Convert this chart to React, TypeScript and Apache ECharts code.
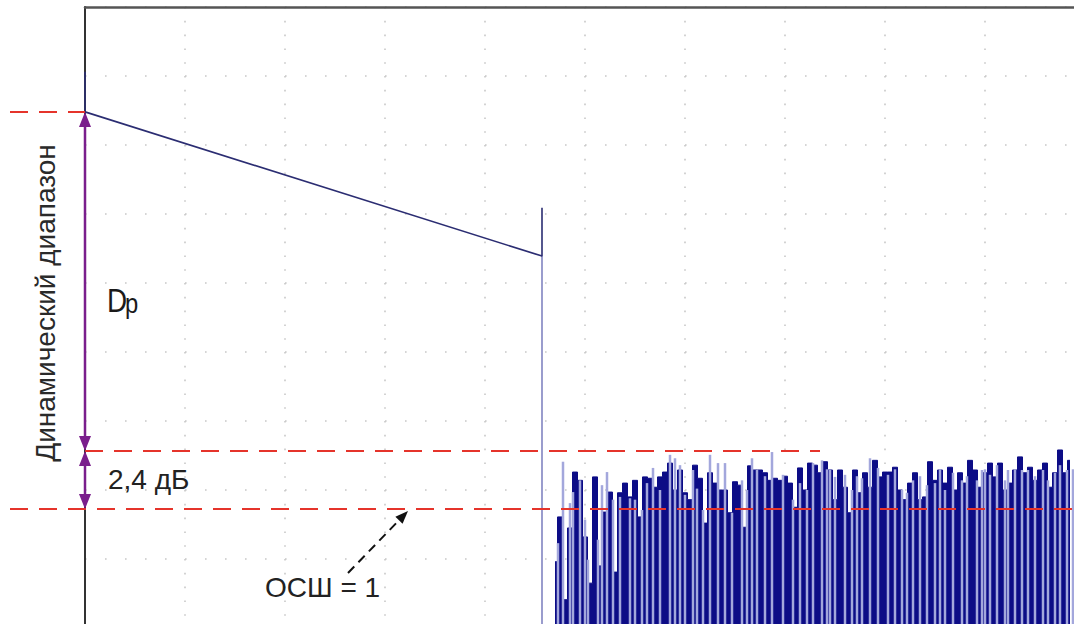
import React, { useEffect, useRef } from 'react';
import * as echarts from 'echarts';

// Axis ranges (in screen divisions)
const xMin = 0;
const xMax = 10;
const yMin = 0;
const yMax = 9;

// Main trace: start spike, linear decay, end reflection spike
const traceX = [0, 0, 4.57, 4.57, 4.57];
const traceY = [8.06, 7.48, 5.39, 6.09, 5.39];
// Fall of the trace to the floor
const dropX = [4.57, 4.57];
const dropY = [5.39, 0];

// Noise floor envelope (samples every 0.05 division from 4.70)
const noiseStart = 4.7;
const noiseStep = 0.05;
const noiseDark = [
  0.96, 1.61, 0.41, 1.45, 2.26, 2.14, 1.32, 0.65, 2.19, 0.9, 1.68, 1.97, 0.81, 1.96, 2.1, 1.9, 2.14,
  1.61, 2.19, 2.17, 2.04, 2.19, 2.26, 2.39, 2.0, 2.29, 1.96, 1.86, 2.36, 2.17, 1.52, 2.25, 2.1,
  2.0, 2.0, 1.67, 2.12, 2.07, 1.46, 2.35, 2.29, 2.29, 2.25, 2.14, 2.17, 2.14, 2.2, 2.1, 1.75, 2.32,
  2.0, 2.39, 2.36, 2.25, 2.41, 2.29, 1.86, 2.29, 2.04, 1.67, 2.29, 1.96, 2.25, 2.04, 2.43, 2.19, 2.26,
  2.26, 2.33, 2.0, 1.86, 2.1, 2.25, 1.86, 1.9, 2.41, 2.14, 2.29, 2.1, 2.33, 2.0, 2.25, 2.1, 2.43,
  2.29, 2.04, 2.25, 2.39, 2.19, 2.39, 2.0, 2.1, 2.29, 2.48, 2.25, 2.33, 2.14, 2.29, 2.39, 2.04, 2.25,
  2.58, 2.25, 2.43,
];

// Light noise spikes
const stripeX = [
  4.73, 4.78, 4.85, 4.88, 4.95, 5.0, 5.03, 5.13, 5.17, 5.22, 5.28, 5.35, 5.45, 5.5, 5.57, 5.62, 5.68,
  5.75, 5.85, 5.9, 5.95, 6.0, 6.08, 6.12, 6.18, 6.25,
  6.33, 6.4, 6.47, 6.57, 6.62, 6.67, 6.72, 6.8, 6.87, 6.98, 7.08, 7.15, 7.22, 7.28, 7.37, 7.42, 7.45,
  7.5, 7.6, 7.67, 7.72, 7.77, 7.85, 7.93, 8.03,
  8.1, 8.17, 8.22, 8.28, 8.35, 8.42, 8.5, 8.55, 8.6, 8.68, 8.77, 8.82, 8.92, 8.97, 9.0, 9.05, 9.12,
  9.2, 9.23, 9.3, 9.37, 9.43, 9.5, 9.58, 9.63, 9.7, 9.75, 9.82, 9.88,
];
const stripeY = [
  1.23, 2.41, 1.81, 1.97, 2.14, 1.57, 0.99, 1.28, 2.07, 2.26, 1.86, 1.9, 1.88, 1.86, 1.71, 2.1, 2.32,
  2.0, 2.51, 2.46, 2.36, 1.93, 2.29, 2.02, 1.71, 2.51,
  2.39, 2.39, 1.67, 2.14, 2.0, 2.46, 2.29, 2.2, 2.55, 2.22, 1.86, 2.1, 2.0, 2.39, 2.43, 2.3, 2.29,
  2.19, 2.22, 2.0, 2.2, 2.17, 2.46, 2.32, 2.22,
  2.3, 2.0, 1.96, 2.14, 2.2, 2.07, 2.1, 2.3, 2.0, 2.25, 2.14, 2.2, 2.14, 2.29, 2.3, 2.22, 2.36,
  2.14, 2.29, 2.3, 2.29, 2.29, 2.2, 2.29, 2.14, 2.25, 2.36, 2.29, 2.3,
];

// Annotation levels
const refLevel = 7.48;
const noisePeakLevel = 2.565;
const snrLevel = 1.725;
const midLineEndX = 7.35;
const snrArrowTipX = 3.23;

// Texts
const rangeLabel = 'Динамический диапазон';
const dLabel = 'D';
const pLabel = 'p';
const dbLabel = '2,4 дБ';
const snrLabel = 'ОСШ = 1';

const FONT = "'Liberation Sans', Arial, sans-serif";
const RED = '#e5342b';
const PURPLE = '#7a1e8c';
const NAVY = '#0c0c86';

function arrowHead(tx: number, ty: number, dx: number, dy: number, len: number, half: number) {
  const n = Math.hypot(dx, dy);
  const ux = dx / n;
  const uy = dy / n;
  const bx = tx - ux * len;
  const by = ty - uy * len;
  return [
    [tx, ty],
    [bx - uy * half, by + ux * half],
    [bx + uy * half, by - ux * half],
  ];
}

export default function App() {
  const ref = useRef<HTMLDivElement>(null);

  useEffect(() => {
    if (!ref.current) return;
    const chart = echarts.init(ref.current, null, { renderer: 'svg' });

    const trace = traceX.map((x, i) => [x, traceY[i]]);
    const drop = dropX.map((x, i) => [x, dropY[i]]);
    const noise = noiseDark.map((v, i) => [noiseStart + i * noiseStep, v]);
    const stripes = stripeX.map((x, i) => [x, stripeY[i]]);

    chart.setOption({
      animation: false,
      backgroundColor: '#ffffff',
      grid: { left: 85, top: 7, width: 1000, height: 621, containLabel: false },
      xAxis: {
        type: 'value',
        position: 'top',
        min: xMin,
        max: xMax,
        interval: 1,
        axisLine: { show: true, onZero: false, lineStyle: { color: '#555', width: 2.5 } },
        axisTick: { show: false },
        axisLabel: { show: false },
        splitLine: { show: true, lineStyle: { color: '#c8c8c8', width: 1.6, type: [1.6, 12.2] } },
      },
      yAxis: {
        type: 'value',
        min: yMin,
        max: yMax,
        interval: 1,
        axisLine: { show: true, onZero: false, lineStyle: { color: '#333', width: 2 } },
        axisTick: { show: false },
        axisLabel: { show: false },
        splitLine: { show: true, lineStyle: { color: '#c8c8c8', width: 1.6, type: [1.6, 18.4] } },
      },
      series: [
        {
          type: 'line',
          data: noise,
          step: 'middle',
          symbol: 'none',
          lineStyle: { color: NAVY, width: 1 },
          areaStyle: { color: NAVY, opacity: 1 },
          z: 2,
        },
        {
          type: 'bar',
          data: stripes,
          barWidth: 2.5,
          itemStyle: { color: '#a3a7dc' },
          z: 3,
        },
        {
          type: 'line',
          data: drop,
          symbol: 'none',
          clip: false,
          lineStyle: { color: '#6f73b8', width: 1.4 },
          z: 4,
        },
        {
          type: 'line',
          data: trace,
          symbol: 'none',
          clip: false,
          lineStyle: { color: '#2b2d72', width: 1.6 },
          z: 5,
        },
      ],
    });

    const P = (x: number, y: number) => chart.convertToPixel({ gridIndex: 0 }, [x, y]) as number[];
    const x0 = P(0, 0)[0];
    const yRef = P(0, refLevel)[1];
    const yMid = P(0, noisePeakLevel)[1];
    const yLow = P(0, snrLevel)[1];
    const xMidEnd = P(midLineEndX, 0)[0];
    const tip = P(snrArrowTipX, snrLevel);
    const tipX = tip[0];
    const tipY = tip[1] + 2;
    const tailX = tipX - 60;
    const tailY = tipY + 62;

    const dash = { stroke: RED, lineWidth: 2, lineDash: [18, 11] };
    const ah = (tx: number, ty: number, dx: number, dy: number) => ({
      type: 'polygon',
      z: 110,
      shape: { points: arrowHead(tx, ty, dx, dy, 15, 6) },
      style: { fill: PURPLE },
    });

    const headBlack = arrowHead(tipX, tipY, tipX - tailX, tipY - tailY, 13, 5);
    const dirN = Math.hypot(tipX - tailX, tipY - tailY);
    const lineEndX = tipX - ((tipX - tailX) / dirN) * 11;
    const lineEndY = tipY - ((tipY - tailY) / dirN) * 11;

    chart.setOption({
      graphic: [
        { type: 'line', z: 100, shape: { x1: 10, y1: yRef, x2: x0, y2: yRef }, style: dash },
        { type: 'line', z: 100, shape: { x1: x0, y1: yMid, x2: xMidEnd, y2: yMid }, style: dash },
        { type: 'line', z: 100, shape: { x1: 10, y1: yLow, x2: 1090, y2: yLow }, style: dash },
        {
          type: 'line',
          z: 105,
          shape: { x1: x0, y1: yRef + 10, x2: x0, y2: yMid - 10 },
          style: { stroke: PURPLE, lineWidth: 2.5 },
        },
        {
          type: 'line',
          z: 105,
          shape: { x1: x0, y1: yMid + 10, x2: x0, y2: yLow - 10 },
          style: { stroke: PURPLE, lineWidth: 2.5 },
        },
        ah(x0, yRef, 0, -1),
        ah(x0, yMid, 0, 1),
        ah(x0, yMid, 0, -1),
        ah(x0, yLow, 0, 1),
        {
          type: 'line',
          z: 105,
          shape: { x1: tailX, y1: tailY, x2: lineEndX, y2: lineEndY },
          style: { stroke: '#111', lineWidth: 2, lineDash: [9, 6] },
        },
        { type: 'polygon', z: 106, shape: { points: headBlack }, style: { fill: '#111' } },
        {
          type: 'text',
          z: 110,
          x: 45,
          y: 303,
          rotation: Math.PI / 2,
          style: {
            text: rangeLabel,
            fontSize: 28,
            fontFamily: FONT,
            fill: '#2a2a2a',
            align: 'center',
            verticalAlign: 'middle',
            textAlign: 'center',
            textVerticalAlign: 'middle',
          },
        },
        {
          type: 'text',
          z: 110,
          x: 107,
          y: 301,
          scaleX: 0.82,
          style: {
            text: dLabel,
            fontSize: 34,
            fontFamily: FONT,
            fill: '#1a1a1a',
            align: 'left',
            verticalAlign: 'middle',
            textAlign: 'left',
            textVerticalAlign: 'middle',
          },
        },
        {
          type: 'text',
          z: 110,
          x: 125,
          y: 303,
          scaleX: 0.85,
          style: {
            text: pLabel,
            fontSize: 28,
            fontFamily: FONT,
            fill: '#1a1a1a',
            align: 'left',
            verticalAlign: 'middle',
            textAlign: 'left',
            textVerticalAlign: 'middle',
          },
        },
        {
          type: 'text',
          z: 110,
          x: 108,
          y: 479,
          style: {
            text: dbLabel,
            fontSize: 28,
            fontFamily: FONT,
            fill: '#222',
            align: 'left',
            verticalAlign: 'middle',
            textAlign: 'left',
            textVerticalAlign: 'middle',
          },
        },
        {
          type: 'text',
          z: 110,
          x: 265,
          y: 587,
          style: {
            text: snrLabel,
            fontSize: 28,
            fontFamily: FONT,
            fill: '#222',
            align: 'left',
            verticalAlign: 'middle',
            textAlign: 'left',
            textVerticalAlign: 'middle',
          },
        },
      ],
    });

    return () => chart.dispose();
  }, []);

  return (
    <div
      ref={ref}
      style={{ position: 'fixed', left: 0, top: 0, width: 1090, height: 632, background: '#fff' }}
    />
  );
}
